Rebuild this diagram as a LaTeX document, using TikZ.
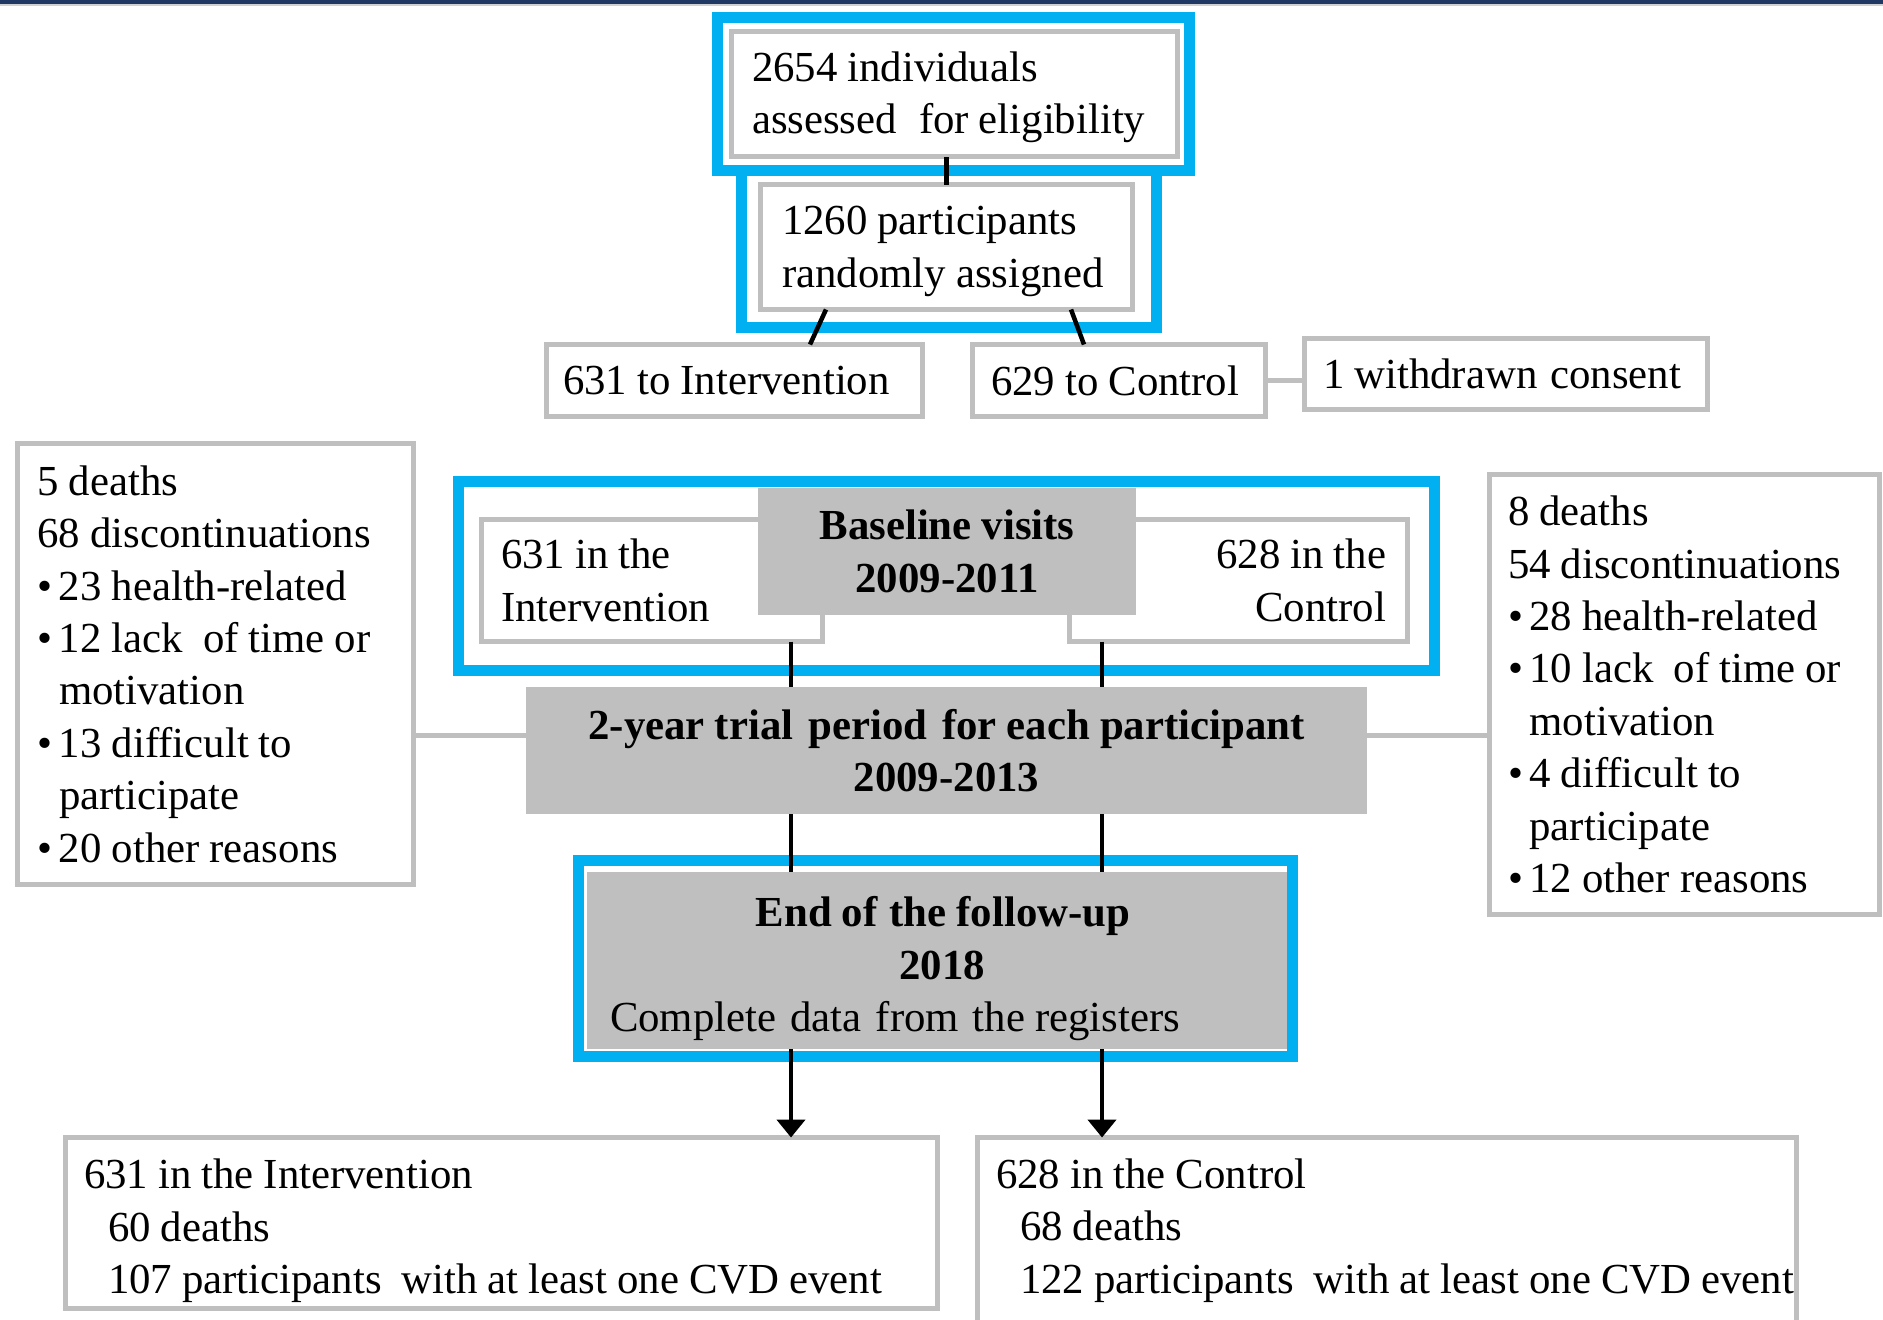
\documentclass[tikz,border=0pt]{standalone}
\usepackage{fontspec}
\setmainfont{Liberation Serif}
\usetikzlibrary{arrows.meta,calc}
\definecolor{navy}{RGB}{32,56,100}
\definecolor{cyanblue}{RGB}{0,176,240}
\definecolor{boxgray}{RGB}{191,191,191}
\definecolor{fillgray}{RGB}{191,191,191}
\newcommand\fs{\fontsize{21.4}{26.2}\selectfont}
\newcommand\tsp{\spaceskip=5pt\relax}
\newcommand\bul{\makebox[10.75pt][l]{\textbullet}}
\newcommand\ind{\makebox[10.75pt]{}}
\newcommand\indB{\makebox[12pt]{}}
\hyphenpenalty=10000
\exhyphenpenalty=10000
\pgfdeclarelayer{bg}
\pgfsetlayers{bg,main}
\tikzset{
  gbox/.style={draw=boxgray, line width=2.5pt, fill=white, inner ysep=0pt, outer sep=0pt, font=\fs},
  bluefr/.style={draw=cyanblue, line width=5.5pt, inner sep=0pt, outer sep=0pt},
  gfill/.style={fill=fillgray, inner sep=0pt, outer sep=0pt, align=center, font=\fs\bfseries},
  blk/.style={line width=2.25pt, draw=black},
  gcon/.style={line width=2.5pt, draw=boxgray},
  arr/.style={blk, -{Triangle[width=14pt,length=9pt]}}
}
\begin{document}
\begin{tikzpicture}[x=0.5pt,y=-0.5pt]
\useasboundingbox (0,0) rectangle (1883,1319);
\clip (0,0) rectangle (1883,1319);
\fill[white] (0,0) rectangle (1883,1319);
% top bar
\fill[navy] (0,0) rectangle (1883,4);
\fill[black!18] (0,4) rectangle (1883,5.5);

\coordinate (colL) at (791,0);
\coordinate (colR) at (1102,0);
\coordinate (rowT) at (0,735);

% top boxes
\node[bluefr, minimum width=236pt, minimum height=76.5pt] (eligF) at (953.5,94) {};
\node[bluefr, minimum width=207.5pt, minimum height=78.5pt] (randF) at (949,249) {};
\node[gbox, minimum width=223pt, minimum height=62.5pt, text width=202.5pt, inner xsep=10.25pt, align=left] (elig) at (954.5,94)
  {\tsp\rule{0pt}{18.3pt}2654~individuals\\assessed\kern6pt~for~eligibility};
\node[gbox, minimum width=186pt, minimum height=62.5pt, text width=164.5pt, inner xsep=10.75pt, align=left] (rand) at (946.5,247)
  {\tsp\rule{0pt}{18.6pt}1260~participants\\randomly~assigned};

\node[gbox, minimum width=188pt, minimum height=36pt, text width=171.5pt, inner xsep=8.25pt, align=left] (int) at (734.5,380.5) {\tsp 631~to~Intervention};
\node[gbox, minimum width=146.5pt, minimum height=36pt, text width=128pt, inner xsep=9.25pt, align=left] (ctl) at (1119,380.5) {\tsp 629~to~Control};
\node[gbox, minimum width=201.5pt, minimum height=35.5pt, text width=183pt, inner xsep=9.25pt, align=left] (wd) at (1506,374) {\tsp 1~withdrawn\kern1.5pt~consent};

% baseline
\node[bluefr, minimum width=488pt, minimum height=94.5pt] (bframe) at (946.5,576) {};
\node[gbox, minimum width=170.5pt, minimum height=61pt, text width=151pt, inner xsep=9.75pt, align=left] (bi) at (652,580.5) {\tsp 631~in~the\\Intervention};
\node[gbox, minimum width=169pt, minimum height=61pt, text width=147.5pt, inner xsep=10.75pt, align=right] (bc) at (1238.5,580.5) {\tsp 628~in~the\\Control};
\node[gfill, minimum width=189pt, minimum height=63.5pt, text width=189pt] (bv) at (947,551.5) {\tsp Baseline~visits\\2009-2011};

% trial period
\node[gfill, minimum width=420.5pt, minimum height=63.5pt, text width=420.5pt] (trial) at (946.5,750.5)
  {\tsp 2-year~trial\kern2.5pt~period\kern2.5pt~for~each~participant\\2009-2013};

% side boxes
\node[gbox, minimum width=198pt, minimum height=220.5pt, text width=178pt, inner xsep=10pt, align=left] (ld) at (215.5,664)
  {\tsp 5~deaths\\68~discontinuations\\\bul 23~health-related\\\bul 12~lack\kern5pt~of~time~or\\\ind motivation\\\bul 13~difficult~to\\\ind participate\\\bul 20~other~reasons};
\node[gbox, minimum width=195pt, minimum height=220pt, text width=176.5pt, inner xsep=9.25pt, align=left] (rd) at (1684.5,694.5)
  {\tsp 8~deaths\\54~discontinuations\\\bul 28~health-related\\\bul 10~lack\kern5pt~of~time~or\\\ind motivation\\\bul 4~difficult~to\\\ind participate\\\bul 12~other~reasons};

% end of follow-up
\node[bluefr, minimum width=357pt, minimum height=98pt] (endF) at (935.5,958.5) {};
\node[gfill, minimum width=350pt, minimum height=88.5pt, text width=327pt, inner xsep=11.5pt, align=left, font=\fs] (endbox) at (937,960.5)
  {\tsp\rule{0pt}{23.1pt}\makebox[\linewidth]{\kern6pt\bfseries End~of\kern1pt~the~follow-up}\\\makebox[\linewidth]{\kern5pt\bfseries 2018}\\Complete\kern2pt~data\kern2pt~from\kern2pt~the~registers};

% bottom boxes
\node[gbox, minimum width=436pt, minimum height=85.5pt, text width=417.5pt, inner xsep=9.25pt, align=left] (bl) at (501.5,1223)
  {\tsp\rule{0pt}{22.6pt}631~in~the~Intervention\\\indB 60~deaths\\\indB 107~participants\kern5pt~with~at~least~one~CVD~event};
\node[gbox, minimum width=409.5pt, minimum height=93pt, text width=391pt, inner xsep=9.25pt, align=left] (br) at (1387,1230.5)
  {\tsp 628~in~the~Control\\\indB 68~deaths\\\indB 122~participants\kern5pt~with~at~least~one~CVD~event};

% connectors under the blue frame
\begin{pgfonlayer}{bg}
\draw[blk] (int.south -| colL) -- (bframe.north -| colL);
\draw[blk] (ctl.south -| colR) -- (bframe.north -| colR);
\end{pgfonlayer}

% connectors
\draw[blk] (rand.north) -- (rand.north |- elig.south);
\draw[blk] ([xshift=-60.25pt]rand.south) -- ([xshift=37.75pt]int.north);
\draw[blk] ([xshift=62.25pt]rand.south) -- ([xshift=-17.5pt]ctl.north);
\draw[gcon] (ctl.east) -- (wd.west |- ctl.east);
\draw[blk] (bi.south -| colL) -- (trial.north -| colL);
\draw[blk] (bc.south -| colR) -- (trial.north -| colR);
\draw[gcon] (ld.east |- rowT) -- (trial.west |- rowT);
\draw[gcon] (trial.east |- rowT) -- (rd.west |- rowT);
\draw[blk] (trial.south -| colL) -- (endbox.north -| colL);
\draw[blk] (trial.south -| colR) -- (endbox.north -| colR);
\draw[arr] (endbox.south -| colL) -- (bl.north -| colL);
\draw[arr] (endbox.south -| colR) -- (br.north -| colR);
\end{tikzpicture}
\end{document}
